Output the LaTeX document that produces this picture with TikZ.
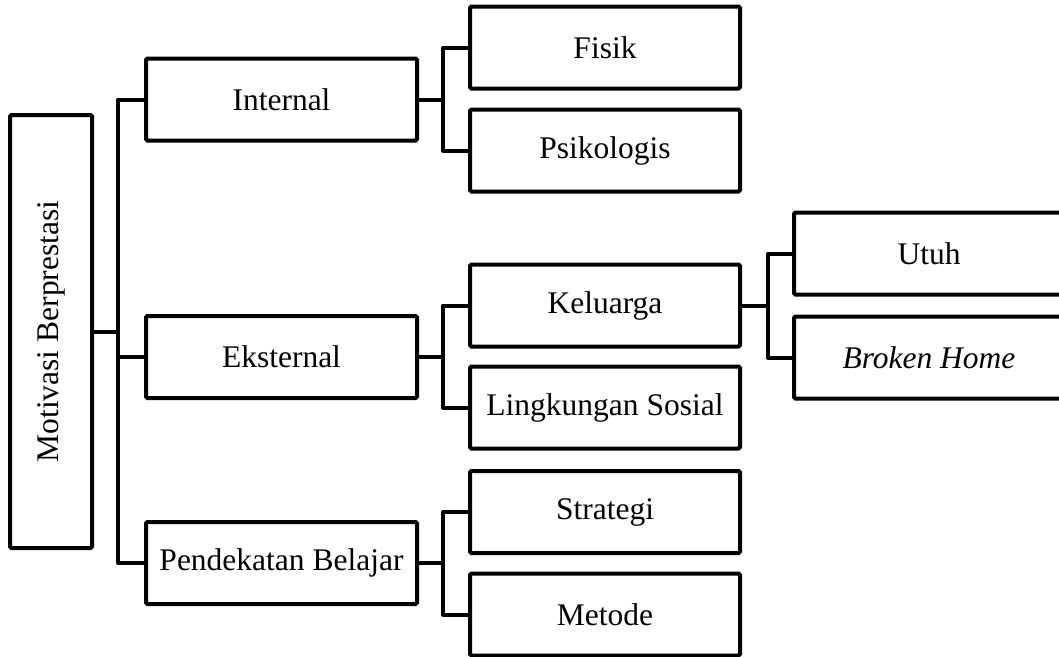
\documentclass[tikz,border=0pt]{standalone}
\usepackage{fontspec}
\setmainfont{Liberation Serif}
\begin{document}
\begin{tikzpicture}[x=1pt,y=-1pt,
  box/.style={draw=black, line width=4pt, rounded corners=1.5pt, inner sep=0pt,
    minimum width=271pt, minimum height=82pt, align=center,
    font=\fontsize{31.5}{36}\selectfont},
  link/.style={draw=black, line width=4pt, line join=round}]
\useasboundingbox (0,0) rectangle (1059,656);
\clip (0,0) rectangle (1059,656);
% root
\node[box, minimum width=433pt, minimum height=82pt, rotate=90] (root) at (51,331.5) {Motivasi Berprestasi};
% level 1
\node[box] (int) at (281.5,99.5) {Internal};
\node[box] (eks) at (281.5,357) {Eksternal};
\node[box] (pend) at (281.5,563) {Pendekatan Belajar};
% level 2
\node[box, minimum width=270pt] (fis) at (605,47.5) {Fisik};
\node[box, minimum width=270pt] (psi) at (605,150.5) {Psikologis};
\node[box, minimum width=270pt] (kel) at (605,305.5) {Keluarga};
\node[box, minimum width=270pt] (lin) at (605,407.5) {Lingkungan Sosial};
\node[box, minimum width=270pt] (str) at (605,512) {Strategi};
\node[box, minimum width=270pt] (met) at (605,614.5) {Metode};
% level 3
\node[box, minimum width=270pt] (utu) at (929,253.5) {Utuh};
\node[box, minimum width=270pt] (bro) at (929,357.5) {\itshape Broken Home};
% junction points
\coordinate (t1) at (118,331.5);
\coordinate (t2) at (443,99.5);
\coordinate (t3) at (443,357);
\coordinate (t4) at (443,563);
\coordinate (t5) at (768,305.5);
% connectors
\draw[link] (root.south) -- (t1);
\draw[link] (int.west) -| (t1);
\draw[link] (eks.west) -| (t1);
\draw[link] (pend.west) -| (t1);
\draw[link] (int.east) -- (t2);
\draw[link] (fis.west) -| (t2);
\draw[link] (psi.west) -| (t2);
\draw[link] (eks.east) -- (t3);
\draw[link] (kel.west) -| (t3);
\draw[link] (lin.west) -| (t3);
\draw[link] (pend.east) -- (t4);
\draw[link] (str.west) -| (t4);
\draw[link] (met.west) -| (t4);
\draw[link] (kel.east) -- (t5);
\draw[link] (utu.west) -| (t5);
\draw[link] (bro.west) -| (t5);
\end{tikzpicture}
\end{document}
